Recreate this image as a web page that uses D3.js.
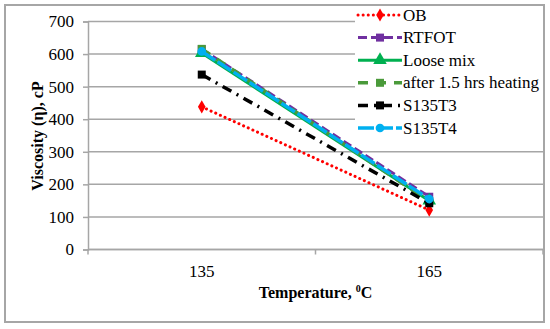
<!DOCTYPE html>
<html>
<head>
<meta charset="utf-8">
<script src="https://cdn.jsdelivr.net/npm/d3@7"></script>
<style>
  body { margin: 0; background: #fff; }
</style>
</head>
<body>
<script>
// chart data
const temps = ["135", "165"];
const seriesNames = ["OB", "RTFOT", "Loose mix", "after 1.5 hrs heating", "S135T3", "S135T4"];
const obVals = [438, 121];
const rtfotVals = [615, 162];
const looseVals = [603, 150];
const heatVals = [616, 148];
const s135t3Vals = [537, 142];
const s135t4Vals = [608, 155];
const yTicks = [0, 100, 200, 300, 400, 500, 600, 700];

const seriesVals = [obVals, rtfotVals, looseVals, heatVals, s135t3Vals, s135t4Vals];

const serif = "'Liberation Serif', 'Times New Roman', serif";

// look of each series
const styles = [
    { color: "#ff0000", dash: "0.1,5", width: 3, marker: "diamond", cap: "round" },
    { color: "#7030a0", dash: "9,4", width: 3, marker: "square" },
    { color: "#00b050", dash: null, width: 3, marker: "triangle" },
    { color: "#4a9a3a", dash: "10,8", width: 3.5, marker: "square" },
    { color: "#000000", dash: "10,6,2,6", width: 3.5, marker: "square" },
    { color: "#00b0f0", dash: "16,3", width: 3.5, marker: "circle" }
];

const W = 550, H = 329;
const svg = d3.select("body").append("svg")
    .attr("width", W)
    .attr("height", H);

// outer frame
svg.append("rect")
    .attr("x", 5).attr("y", 5)
    .attr("width", 539).attr("height", 317)
    .attr("fill", "#fff")
    .attr("stroke", "#a6a6a6")
    .attr("stroke-width", 2);

const plot = { left: 88, right: 543, top: 21.5, bottom: 249.5 };

const x = d3.scaleBand()
    .domain(temps)
    .range([plot.left, plot.right]);

const y = d3.scaleLinear()
    .domain([0, 700])
    .range([plot.bottom, plot.top]);

// gridlines
svg.append("g")
    .selectAll("line")
    .data(yTicks)
    .enter()
    .append("line")
    .attr("x1", plot.left)
    .attr("x2", plot.right)
    .attr("y1", d => y(d))
    .attr("y2", d => y(d))
    .attr("stroke", "#a6a6a6")
    .attr("stroke-width", 1.5);

// y axis
const yAxis = svg.append("g")
    .attr("transform", `translate(${plot.left},0)`)
    .call(d3.axisLeft(y).tickValues(yTicks).tickSize(5).tickPadding(9));
yAxis.attr("font-family", null).attr("font-size", null);
yAxis.select(".domain").attr("stroke", "#a6a6a6").attr("stroke-width", 1.5);
yAxis.selectAll(".tick line").attr("stroke", "#a6a6a6").attr("stroke-width", 1.5);
yAxis.selectAll(".tick text")
    .style("font-family", serif)
    .style("font-size", "17px")
    .attr("fill", "#000");

// x axis with ticks between categories
const xAxisG = svg.append("g")
    .attr("transform", `translate(0,${plot.bottom})`);
xAxisG.append("line")
    .attr("x1", plot.left).attr("x2", plot.right)
    .attr("stroke", "#a6a6a6").attr("stroke-width", 1.5);
const bounds = [x.range()[0]].concat(temps.map(t => x(t) + x.bandwidth()));
xAxisG.selectAll(".tk")
    .data(bounds)
    .enter()
    .append("line")
    .attr("x1", d => d).attr("x2", d => d)
    .attr("y1", 0).attr("y2", 5)
    .attr("stroke", "#a6a6a6").attr("stroke-width", 1.5);
xAxisG.selectAll(".lbl")
    .data(temps)
    .enter()
    .append("text")
    .attr("x", d => x(d) + x.bandwidth() / 2)
    .attr("y", 27)
    .attr("text-anchor", "middle")
    .style("font-family", serif)
    .style("font-size", "17px")
    .text(d => d);

// axis titles
svg.append("text")
    .attr("transform", "translate(43,136) rotate(-90)")
    .attr("text-anchor", "middle")
    .style("font-family", serif)
    .style("font-weight", "bold")
    .style("font-size", "16px")
    .text("Viscosity (η), cP");

const xt = svg.append("text")
    .attr("x", (plot.left + plot.right) / 2)
    .attr("y", 298)
    .attr("text-anchor", "middle")
    .style("font-family", serif)
    .style("font-weight", "bold")
    .style("font-size", "16px");
xt.append("tspan").text("Temperature, ");
xt.append("tspan").style("font-size", "10px").attr("dy", -6).text("0");
xt.append("tspan").attr("dy", 6).text("C");

// markers
const symbolFor = {
    diamond: d3.symbolDiamond,
    square: d3.symbolSquare,
    triangle: d3.symbolTriangle,
    circle: d3.symbolCircle
};
const markerSize = { diamond: 50, square: 64, triangle: 80, circle: 60 };
function drawMarker(g, s, cx, cy) {
    g.append("path")
        .attr("d", d3.symbol().type(symbolFor[s.marker]).size(markerSize[s.marker])())
        .attr("transform", `translate(${cx},${cy})`)
        .attr("fill", s.color);
}

// series lines
const line = d3.line()
    .x((d, i) => x(temps[i]) + x.bandwidth() / 2)
    .y(d => y(d));

const seriesG = svg.append("g");
seriesVals.forEach((vals, k) => {
    const s = styles[k];
    seriesG.append("path")
        .datum(vals)
        .attr("d", line)
        .attr("fill", "none")
        .attr("stroke", s.color)
        .attr("stroke-width", s.width)
        .attr("stroke-dasharray", s.dash)
        .attr("stroke-linecap", s.cap || "butt");
    vals.forEach((v, i) => drawMarker(seriesG, s, x(temps[i]) + x.bandwidth() / 2, y(v)));
});

// legend (sits over the plot with a white box)
const legend = svg.append("g");
legend.append("rect")
    .attr("x", 355).attr("y", 6)
    .attr("width", 188).attr("height", 135)
    .attr("fill", "#fff");

const legY = d3.scalePoint()
    .domain(seriesNames)
    .range([15, 128]);

seriesNames.forEach((name, k) => {
    const s = styles[k];
    const ly = legY(name);
    legend.append("line")
        .attr("x1", 358).attr("x2", 402)
        .attr("y1", ly).attr("y2", ly)
        .attr("stroke", s.color)
        .attr("stroke-width", s.width)
        .attr("stroke-dasharray", s.dash)
        .attr("stroke-linecap", s.cap || "butt");
    drawMarker(legend, s, 380, ly);
    legend.append("text")
        .attr("x", 403)
        .attr("y", ly + 5.5)
        .style("font-family", serif)
        .style("font-size", "17px")
        .text(name);
});
</script>
</body>
</html>
